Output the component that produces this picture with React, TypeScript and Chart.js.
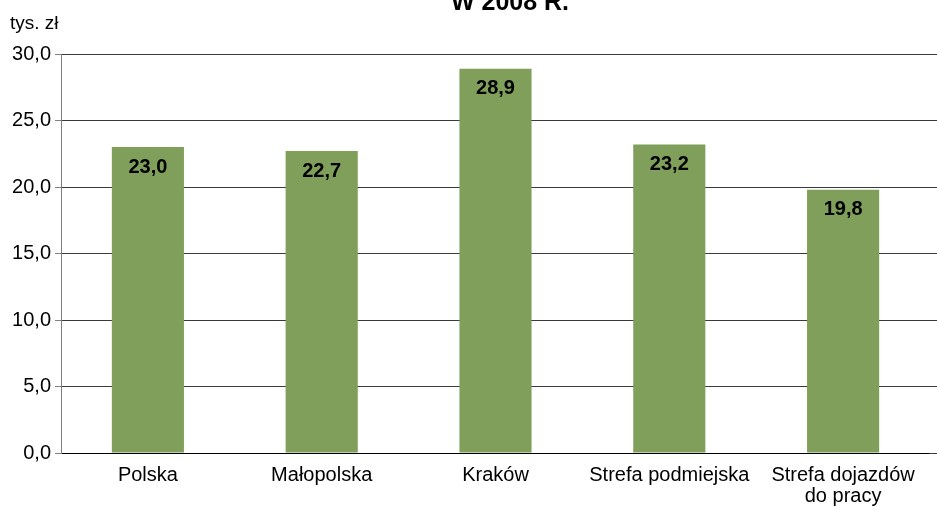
import React, { useEffect, useRef } from "react";
import { Chart, registerables } from "chart.js";

Chart.register(...registerables);

const categories: (string | string[])[] = [
  "Polska",
  "Małopolska",
  "Kraków",
  "Strefa podmiejska",
  ["Strefa dojazdów", "do pracy"],
];
const values: number[] = [23.0, 22.7, 28.9, 23.2, 19.8];
const yTicks: number[] = [0, 5, 10, 15, 20, 25, 30];
const titleText = "W 2008 R.";
const unitText = "tys. zł";

const FONT = "Arial, 'Liberation Sans', sans-serif";
const fmt = (v: number) => v.toFixed(1).replace(".", ",");

export default function App() {
  const ref = useRef<HTMLCanvasElement | null>(null);

  useEffect(() => {
    document.body.style.margin = "0";
    const canvas = ref.current;
    if (!canvas) return;

    const overlay = {
      id: "overlay",
      beforeDatasetsDraw(chart: any) {
        const { ctx, chartArea, scales } = chart;
        ctx.save();
        ctx.strokeStyle = "#3a3a3a";
        ctx.lineWidth = 1;
        yTicks.forEach((t) => {
          const y = Math.round(scales.y.getPixelForValue(t) - 0.5) + 0.5;
          ctx.beginPath();
          ctx.moveTo(chartArea.right - 1, y);
          ctx.lineTo(chart.width, y);
          ctx.stroke();
        });
        ctx.restore();
      },
      afterDatasetsDraw(chart: any) {
        const { ctx } = chart;
        const meta = chart.getDatasetMeta(0);
        ctx.save();
        ctx.fillStyle = "#000";
        ctx.font = `bold 20px ${FONT}`;
        ctx.textAlign = "center";
        ctx.textBaseline = "middle";
        meta.data.forEach((bar: any, i: number) => {
          ctx.fillText(fmt(values[i]), bar.x, bar.y + 20);
        });
        ctx.font = `bold 25px ${FONT}`;
        ctx.textBaseline = "alphabetic";
        ctx.fillText(titleText, 510, 10);
        ctx.font = `19px ${FONT}`;
        ctx.textAlign = "left";
        ctx.fillText(unitText, 10, 29);
        ctx.restore();
      },
    };

    const chart = new Chart(canvas, {
      type: "bar",
      data: {
        labels: categories,
        datasets: [
          {
            data: values,
            backgroundColor: "#7f9f5a",
            borderWidth: 0,
            barPercentage: 0.415,
            categoryPercentage: 1,
          },
        ],
      },
      options: {
        animation: false,
        responsive: false,
        maintainAspectRatio: false,
        layout: { padding: { top: 54, right: 7, left: 0, bottom: 0 } },
        plugins: {
          legend: { display: false },
          tooltip: { enabled: false },
          title: { display: false },
        },
        scales: {
          x: {
            grid: { display: false, drawTicks: false },
            border: { display: true, color: "#000", width: 1 },
            ticks: {
              color: "#000",
              font: { size: 20, family: FONT, lineHeight: 1.05 },
              padding: 12,
              maxRotation: 0,
              autoSkip: false,
            },
            afterFit(scale: any) {
              scale.height = 56;
            },
          },
          y: {
            min: 0,
            max: 30,
            afterBuildTicks(scale: any) {
              scale.ticks = yTicks.map((v) => ({ value: v }));
            },
            grid: {
              color: "#3a3a3a",
              lineWidth: 1,
              drawTicks: true,
              tickLength: 6,
              tickColor: "#808080",
            },
            border: { display: true, color: "#808080", width: 1 },
            ticks: {
              color: "#000",
              font: { size: 20, family: FONT },
              padding: 4,
              callback: (v: any) => fmt(Number(v)),
            },
            afterFit(scale: any) {
              scale.width = 61;
            },
          },
        },
      },
      plugins: [overlay],
    });

    return () => chart.destroy();
  }, []);

  return (
    <div style={{ position: "absolute", left: 0, top: 0, width: 937, height: 509 }}>
      <canvas ref={ref} width={937} height={509} style={{ width: 937, height: 509 }} />
    </div>
  );
}
